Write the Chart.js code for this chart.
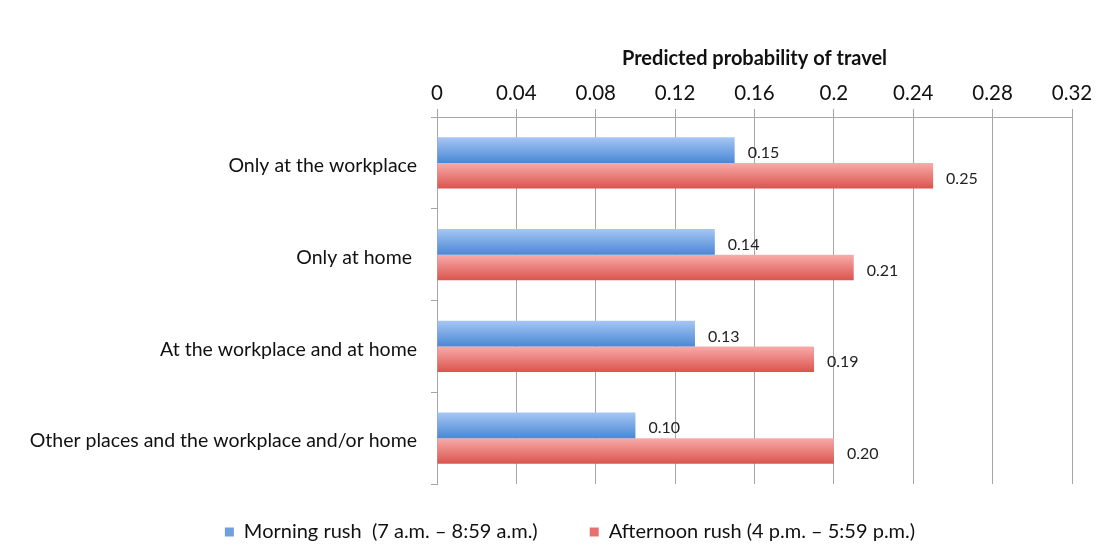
<!DOCTYPE html>
<html>
<head>
<meta charset="utf-8">
<script src="https://cdn.jsdelivr.net/npm/chart.js@4/dist/chart.umd.min.js"></script>
<style>
  html, body { margin: 0; padding: 0; background: #fff; }
  #wrap { width: 1108px; height: 559px; position: relative; }
</style>
</head>
<body>
<div id="wrap"><canvas id="c" width="1108" height="559"></canvas></div>
<script>
// Categories (place of work) and predicted travel probabilities per rush period
const categories = [
  'Only at the workplace',
  'Only at home ',
  'At the workplace and at home',
  'Other places and the workplace and/or home'
];
const morningRush = [0.15, 0.14, 0.13, 0.10];
const afternoonRush = [0.25, 0.21, 0.19, 0.20];
const morningLabels = ['0.15', '0.14', '0.13', '0.10'];
const afternoonLabels = ['0.25', '0.21', '0.19', '0.20'];
const xTickLabels = ['0', '0.04', '0.08', '0.12', '0.16', '0.2', '0.24', '0.28', '0.32'];

const FONT = 'Lato, "Open Sans", sans-serif';
const CAT_PCT = 0.56;

// Vertical gradient across each bar's own thickness
function barGradient(top, bottom, isSecond) {
  return function (ctx) {
    const chart = ctx.chart;
    const y = chart.scales && chart.scales.y;
    if (!chart.chartArea || !y || ctx.dataIndex === undefined) return bottom;
    const band = (y.bottom - y.top) / categories.length;
    const thick = band * CAT_PCT / 2;
    const center = y.getPixelForValue(ctx.dataIndex);
    const y0 = isSecond ? center : center - thick;
    const g = chart.ctx.createLinearGradient(0, y0, 0, y0 + thick);
    g.addColorStop(0, top);
    g.addColorStop(1, bottom);
    return g;
  };
}

// Value labels to the right of each bar end
const valueLabels = {
  id: 'valueLabels',
  afterDatasetsDraw(chart) {
    const ctx = chart.ctx;
    const texts = [morningLabels, afternoonLabels];
    ctx.save();
    ctx.font = '16px ' + FONT;
    ctx.fillStyle = '#222';
    ctx.textAlign = 'left';
    ctx.textBaseline = 'middle';
    chart.data.datasets.forEach((ds, di) => {
      const meta = chart.getDatasetMeta(di);
      meta.data.forEach((bar, i) => {
        ctx.fillText(texts[di][i], bar.x + 13, bar.y + 3);
      });
    });
    ctx.restore();
  }
};

// Nudge the legend block a little right of the page centre
const legendShift = {
  id: 'legendShift',
  afterLayout(chart) {
    if (chart.legend) {
      chart.legend.left += 34;
      chart.legend.right += 34;
    }
  }
};

new Chart(document.getElementById('c'), {
  type: 'bar',
  data: {
    labels: categories,
    datasets: [
      {
        label: 'Morning rush  (7 a.m. \u2013 8:59 a.m.)',
        data: morningRush,
        backgroundColor: barGradient('#a6c7f4', '#4a88d5', false),
        borderWidth: 0,
        categoryPercentage: CAT_PCT,
        barPercentage: 1
      },
      {
        label: 'Afternoon rush (4 p.m. \u2013 5:59 p.m.)',
        data: afternoonRush,
        backgroundColor: barGradient('#f8acaa', '#db534e', true),
        borderWidth: 0,
        categoryPercentage: CAT_PCT,
        barPercentage: 1
      }
    ]
  },
  plugins: [valueLabels, legendShift],
  options: {
    indexAxis: 'y',
    responsive: false,
    animation: false,
    devicePixelRatio: 1,
    layout: { padding: { left: 0, right: 36, top: 0, bottom: 7 } },
    plugins: {
      tooltip: { enabled: false },
      legend: {
        position: 'bottom',
        title: { display: true, text: '', font: { size: 1 }, padding: { top: -15.2, bottom: 0 } },
        labels: {
          boxWidth: 9,
          boxHeight: 9,
          padding: 52,
          color: '#111',
          font: { family: FONT, size: 20 },
          generateLabels(chart) {
            const fills = ['#6f9fe0', '#e8706c'];
            return chart.data.datasets.map((ds, i) => ({
              text: ds.label,
              fillStyle: fills[i],
              strokeStyle: fills[i],
              lineWidth: 0,
              datasetIndex: i,
              fontColor: '#111'
            }));
          }
        }
      }
    },
    scales: {
      x: {
        position: 'top',
        min: 0,
        max: 0.32,
        ticks: {
          stepSize: 0.04,
          padding: 3,
          color: '#111',
          font: { family: FONT, size: 20.5 },
          callback: (v, i) => xTickLabels[i]
        },
        grid: { color: '#a6a6a6', lineWidth: 1, tickLength: 8, drawTicks: true },
        border: { color: '#a6a6a6', width: 1 },
        title: {
          display: true,
          text: 'Predicted probability of travel',
          color: '#111',
          font: { family: FONT, size: 20, weight: 'bold' },
          padding: { top: 47, bottom: 0 }
        },
        afterFit(scale) { scale.height = 117; }
      },
      y: {
        ticks: {
          padding: 14,
          labelOffset: 3,
          color: '#111',
          font: { family: FONT, size: 19.5 }
        },
        grid: { drawOnChartArea: false, color: '#a6a6a6', tickLength: 6, offset: true },
        border: { color: '#a6a6a6', width: 1 },
        afterFit(scale) { scale.width = 437; }
      }
    }
  }
});
</script>
</body>
</html>
